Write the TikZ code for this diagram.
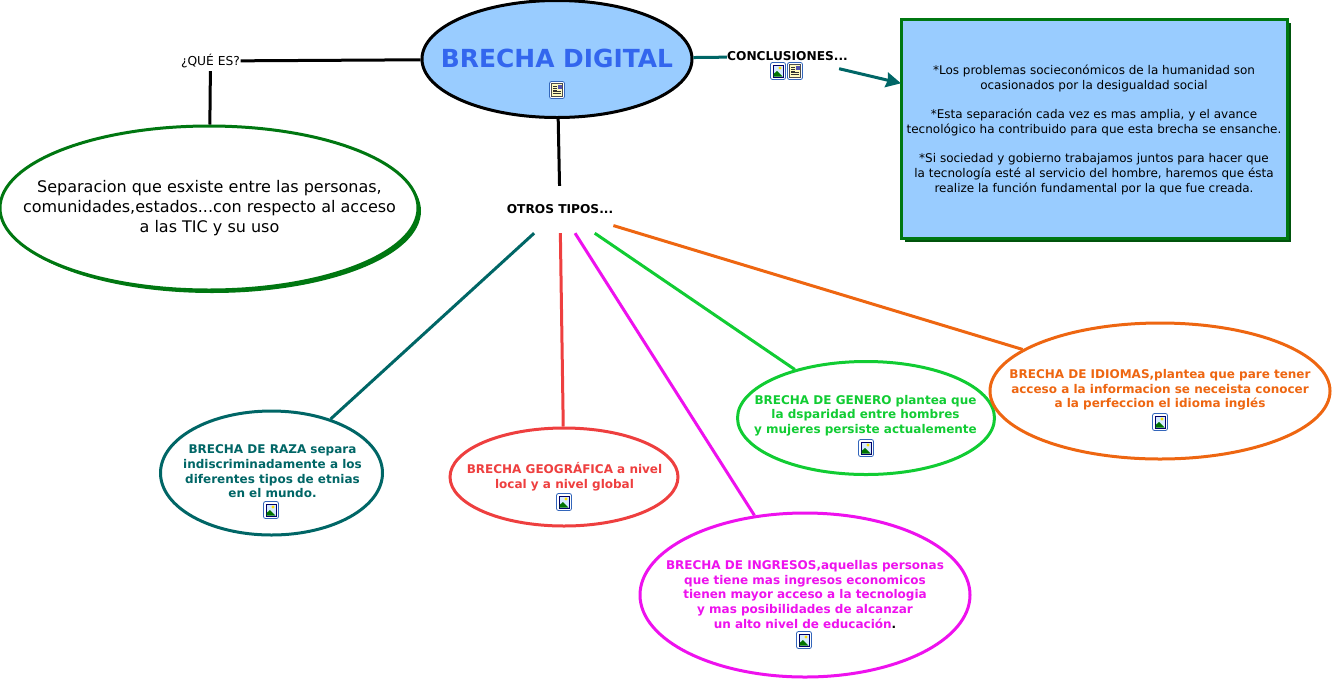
\documentclass[tikz,border=0pt]{standalone}
\usepackage{fontspec}
\setmainfont{DejaVu Sans}
\usepackage{xcolor}
\usetikzlibrary{arrows.meta,shapes.geometric,shadows}

\definecolor{skyfill}{HTML}{99CCFF}
\definecolor{titleblue}{HTML}{3366EE}
\definecolor{boxgreen}{HTML}{007711}
\definecolor{tealc}{HTML}{006666}
\definecolor{redc}{HTML}{EE3F3F}
\definecolor{pinkc}{HTML}{EE11EE}
\definecolor{greenc}{HTML}{11CC33}
\definecolor{orangec}{HTML}{EE6611}
\definecolor{iconblue}{HTML}{3366BB}

\tikzset{
  imgicon/.pic={
    \draw[iconblue, line width=.8pt, fill=white, rounded corners=2pt] (-7.5,-8.5) rectangle (7.5,8.5);
    \fill[blue!40!black] (-5.5,-6.5) rectangle (5.5,6.5);
    \fill[skyfill!40!white] (-4.5,-5.5) rectangle (4.5,5.5);
    \fill[green!45!black] (-4.5,5.5) -- (-4.5,3) -- (-1,0) -- (4.5,5.5) -- cycle;
    \fill[yellow!80!orange] (2,-3) circle (1.7);
  },
  docicon/.pic={
    \draw[iconblue, line width=.8pt, fill=white, rounded corners=2pt] (-7.5,-8.5) rectangle (7.5,8.5);
    \draw[black!70, line width=.5pt, fill=yellow!25] (-5.5,-6.5) rectangle (5.5,6.5);
    \fill[blue!35!gray] (0.5,-5.5) rectangle (4.5,-1.5);
    \foreach \ly in {-4,-2,0} \draw[black!80, line width=.6pt] (-4,\ly) -- (-.5,\ly);
    \foreach \ly in {1.5,3.5} \draw[black!80, line width=.6pt] (-4,\ly) -- (4,\ly);
  },
}

\begin{document}
\begin{tikzpicture}[
  x=1pt, y=-1pt,
  oval/.style={ellipse, draw, line width=3pt, fill=white, inner sep=0pt},
  hub/.style={inner sep=0pt, font=\bfseries\fontsize{12.2}{14}\selectfont},
  tipotxt/.style={inner sep=0pt, align=center, font=\bfseries\fontsize{12}{14.6}\selectfont},
  lnk/.style={line width=3pt},
]
\useasboundingbox (0,0) rectangle (1332,681);

\node[oval, fill=skyfill, minimum width=270pt, minimum height=117pt] (main) at (557,59) {};
\node[inner sep=0pt, text=titleblue, font=\bfseries\fontsize{24.9}{28}\selectfont] (maintxt) at (557,58) {BRECHA DIGITAL};

\node[inner sep=0pt, minimum width=60pt, minimum height=20pt, font=\fontsize{12.3}{14}\selectfont] (que) at (210.5,61) {¿QUÉ ES?};
\node[oval, draw=boxgreen, minimum width=418pt, minimum height=164pt,
      drop shadow={shadow xshift=3pt, shadow yshift=-3pt, fill=boxgreen, opacity=1}] (defi) at (209,208) {};
\node[inner sep=0pt, align=center, font=\fontsize{16}{20}\selectfont] (defitxt) at (209.5,208)
  {Separacion que esxiste entre las personas,\\comunidades,estados...con respecto al acceso\\a las TIC y su uso};

\node[hub, minimum width=121pt, minimum height=24pt] (concl) at (787.5,56.5) {CONCLUSIONES...};
\node[rectangle, draw=boxgreen, line width=3pt, outer sep=0pt, fill=skyfill, minimum width=386pt, minimum height=219pt,
      inner sep=0pt, align=center, font=\fontsize{12}{14.7}\selectfont,
      drop shadow={shadow xshift=3.5pt, shadow yshift=-3.5pt, fill=boxgreen!70!black, opacity=1}] (box) at (1094,128.5)
  {\rule{0pt}{12.5pt}*Los problemas socieconómicos de la humanidad son\\ocasionados por la desigualdad social\\[14.7pt]
   *Esta separación cada vez es mas amplia, y el avance\\tecnológico ha contribuido para que esta brecha se ensanche.\\[14.7pt]
   *Si sociedad y gobierno trabajamos juntos para hacer que\\la tecnología esté al servicio del hombre, haremos que ésta\\realize la función fundamental por la que fue creada.};

\node[hub, minimum width=106pt, minimum height=47pt] (otros) at (560,209.5) {OTROS TIPOS...};

\node[oval, draw=tealc, minimum width=222pt, minimum height=124pt] (raza) at (271.5,473) {};
\node[oval, draw=redc, minimum width=228pt, minimum height=98pt] (geo) at (564,477) {};
\node[oval, draw=pinkc, minimum width=330pt, minimum height=164pt] (ingr) at (805,595) {};
\node[oval, draw=greenc, minimum width=257pt, minimum height=113pt] (gene) at (866,418) {};
\node[oval, draw=orangec, minimum width=340pt, minimum height=136pt] (idio) at (1160,391) {};

\node[tipotxt, text=tealc] (razatxt) at (272.5,471.5) {BRECHA DE RAZA separa\\indiscriminadamente a los\\diferentes tipos de etnias\\en el mundo.};
\node[tipotxt, text=redc] (geotxt) at (564.5,476.5) {BRECHA GEOGRÁFICA a nivel\\local y a nivel global};
\node[tipotxt, text=pinkc] (ingrtxt) at (805,594.5) {BRECHA DE INGRESOS,aquellas personas\\que tiene mas ingresos economicos\\tienen mayor acceso a la tecnologia\\y mas posibilidades de alcanzar\\un alto nivel de educación{\color{black}.}};
\node[tipotxt, text=greenc] (genetxt) at (865.5,415.5) {BRECHA DE GENERO plantea que\\la dsparidad entre hombres\\y mujeres persiste actualemente};
\node[tipotxt, text=orangec] (idiotxt) at (1160,390) {BRECHA DE IDIOMAS,plantea que pare tener\\acceso a la informacion se neceista conocer\\a la perfeccion el idioma inglés};

\draw[lnk, black] (main) -- (que);
\draw[lnk, black] (que) -- (defi);
\draw[lnk, black] (main) -- (otros);
\draw[lnk, tealc] (main) -- (concl);
\draw[lnk, tealc, -{Stealth[length=15pt, width=15pt, inset=1.5pt]}] (concl) -- (box);
\foreach \t/\c in {raza/tealc,geo/redc,ingr/pinkc,gene/greenc,idio/orangec}
  \draw[lnk, \c] (otros) -- (\t);

\pic at (557,90) {docicon};
\pic at (778,71) {imgicon};
\pic at (795,71) {docicon};
\pic at (271,510) {imgicon};
\pic at (564,502) {imgicon};
\pic at (866,448) {imgicon};
\pic at (1160,422) {imgicon};
\pic at (804,640) {imgicon};
\end{tikzpicture}
\end{document}
